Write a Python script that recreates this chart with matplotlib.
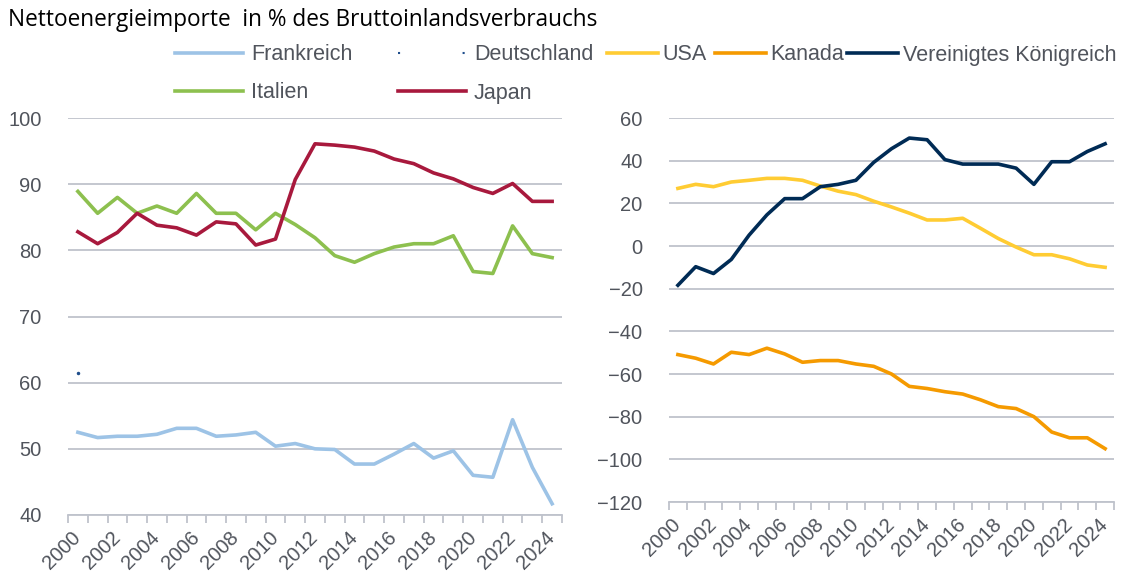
import numpy as np
import matplotlib
matplotlib.use("Agg")
import matplotlib.pyplot as plt
from matplotlib.lines import Line2D

plt.rcParams["font.family"] = ["Liberation Sans", "DejaVu Sans"]

# data
years = list(range(2000, 2025))
year_labels = [str(y) for y in years]

frankreich = [52.5, 51.7, 51.9, 51.9, 52.2, 53.1, 53.1, 51.9, 52.1, 52.5, 50.4, 50.8, 50.0,
              49.9, 47.7, 47.7, 49.2, 50.8, 48.6, 49.7, 46.0, 45.7, 54.4, 47.2, 41.7]
deutschland = [61.5] + [np.nan] * 24
italien = [88.9, 85.6, 88.0, 85.6, 86.7, 85.6, 88.6, 85.6, 85.6, 83.1, 85.6, 83.9, 81.9,
           79.2, 78.2, 79.5, 80.5, 81.0, 81.0, 82.2, 76.8, 76.5, 83.7, 79.5, 78.9]
japan = [82.8, 81.0, 82.7, 85.6, 83.8, 83.4, 82.3, 84.3, 84.0, 80.8, 81.7, 90.7, 96.1,
         95.9, 95.6, 95.0, 93.8, 93.1, 91.7, 90.8, 89.5, 88.6, 90.1, 87.4, 87.4]
usa = [27.0, 28.9, 27.8, 30.0, 30.8, 31.7, 31.7, 30.8, 28.1, 25.7, 24.1, 21.0, 18.3,
       15.4, 12.2, 12.2, 13.0, 8.3, 3.5, -0.5, -4.1, -4.1, -6.0, -8.9, -10.0]
kanada = [-50.9, -52.6, -55.3, -49.8, -50.9, -47.9, -50.6, -54.5, -53.7, -53.7, -55.3, -56.4, -60.0,
          -65.8, -66.8, -68.3, -69.4, -72.1, -75.3, -76.2, -80.0, -87.2, -89.9, -89.9, -95.0]
vk = [-18.4, -9.7, -12.9, -6.3, 5.1, 14.6, 22.2, 22.2, 27.8, 28.9, 30.8, 39.2, 45.6,
      50.6, 49.8, 40.5, 38.4, 38.4, 38.4, 36.5, 28.9, 39.5, 39.5, 44.3, 47.9]

c_fr = "#9dc3e6"
c_de = "#1f4e8c"
c_it = "#8dc04f"
c_jp = "#a8193d"
c_us = "#ffcc33"
c_ca = "#f59a00"
c_vk = "#002b55"
grid_c = "#bfc3cc"
text_c = "#50545c"

W, H = 1139, 581
fig = plt.figure(figsize=(W / 100, H / 100), dpi=100)

x = np.arange(len(years))
lw = 2.6


def style_axis(ax, ymin, ymax, step):
    ax.set_xlim(-0.5, len(years) - 0.5)
    ax.set_ylim(ymin, ymax)
    ax.set_yticks(np.arange(ymin, ymax + 1, step))
    ax.yaxis.grid(True, color=grid_c, linewidth=1.3)
    ax.set_axisbelow(True)
    for s in ["top", "right", "left"]:
        ax.spines[s].set_visible(False)
    ax.spines["bottom"].set_color(grid_c)
    ax.spines["bottom"].set_linewidth(1.3)
    ax.tick_params(axis="y", length=0, pad=19, labelsize=14.5, labelcolor=text_c)
    # tick marks between the categories, labels every second year
    ax.set_xticks(np.arange(-0.5, len(years)), labels=[])
    ax.tick_params(axis="x", which="major", length=6, width=1.3, color=grid_c)
    ax.set_xticks(x[::2], labels=year_labels[::2], minor=True)
    ax.tick_params(axis="x", which="minor", length=0, pad=14, labelsize=14.5, labelcolor=text_c)
    for lab in ax.get_xticklabels(minor=True):
        lab.set_rotation(45)
        lab.set_ha("right")
        lab.set_va("center")
        lab.set_rotation_mode("anchor")


# 1) left panel
ax1 = fig.add_axes([68 / W, 1 - 515 / H, 494 / W, 397 / H])
ax1.plot(x, frankreich, color=c_fr, linewidth=lw)
ax1.plot(x, deutschland, color=c_de, linewidth=1.5, marker=".", markersize=3)
ax1.plot(x, italien, color=c_it, linewidth=lw)
ax1.plot(x, japan, color=c_jp, linewidth=lw)
style_axis(ax1, 40, 100, 10)

# 2) right panel
ax2 = fig.add_axes([669 / W, 1 - 502 / H, 445 / W, 384 / H])
ax2.plot(x, usa, color=c_us, linewidth=lw)
ax2.plot(x, kanada, color=c_ca, linewidth=lw)
ax2.plot(x, vk, color=c_vk, linewidth=lw)
style_axis(ax2, -120, 60, 20)

fig.text(8 / W, 1 - 20 / H, "Nettoenergieimporte  in % des Bruttoinlandsverbrauchs",
         family="Open Sans", fontsize=16.3, color="black", va="center", ha="left")

# legend entries placed one by one like the original
entries = [
    ("Frankreich", Line2D([], [], color=c_fr, lw=lw), 175, 55, 3.15, 0.37),
    ("Deutschland", Line2D([], [], color=c_de, lw=1.5, ls=(0, (1, 30))), 398, 55, 3.15, 0.37),
    ("USA", Line2D([], [], color=c_us, lw=lw), 607, 55, 2.35, 0.23),
    ("Kanada", Line2D([], [], color=c_ca, lw=lw), 715, 55, 2.35, 0.23),
    ("Vereinigtes Königreich", Line2D([], [], color=c_vk, lw=lw), 847, 55, 2.35, 0.23),
    ("Italien", Line2D([], [], color=c_it, lw=lw), 175, 93, 3.15, 0.37),
    ("Japan", Line2D([], [], color=c_jp, lw=lw), 398, 93, 3.15, 0.37),
]
for name, h, lx, ly, hl, tp in entries:
    leg = fig.legend(handles=[h], labels=[name], loc="center left",
                     bbox_to_anchor=(lx / W, 1 - ly / H), frameon=False,
                     fontsize=15.5, labelcolor=text_c, handlelength=hl,
                     handletextpad=tp, borderpad=0, borderaxespad=0)

plt.savefig("out.png", dpi=100)
